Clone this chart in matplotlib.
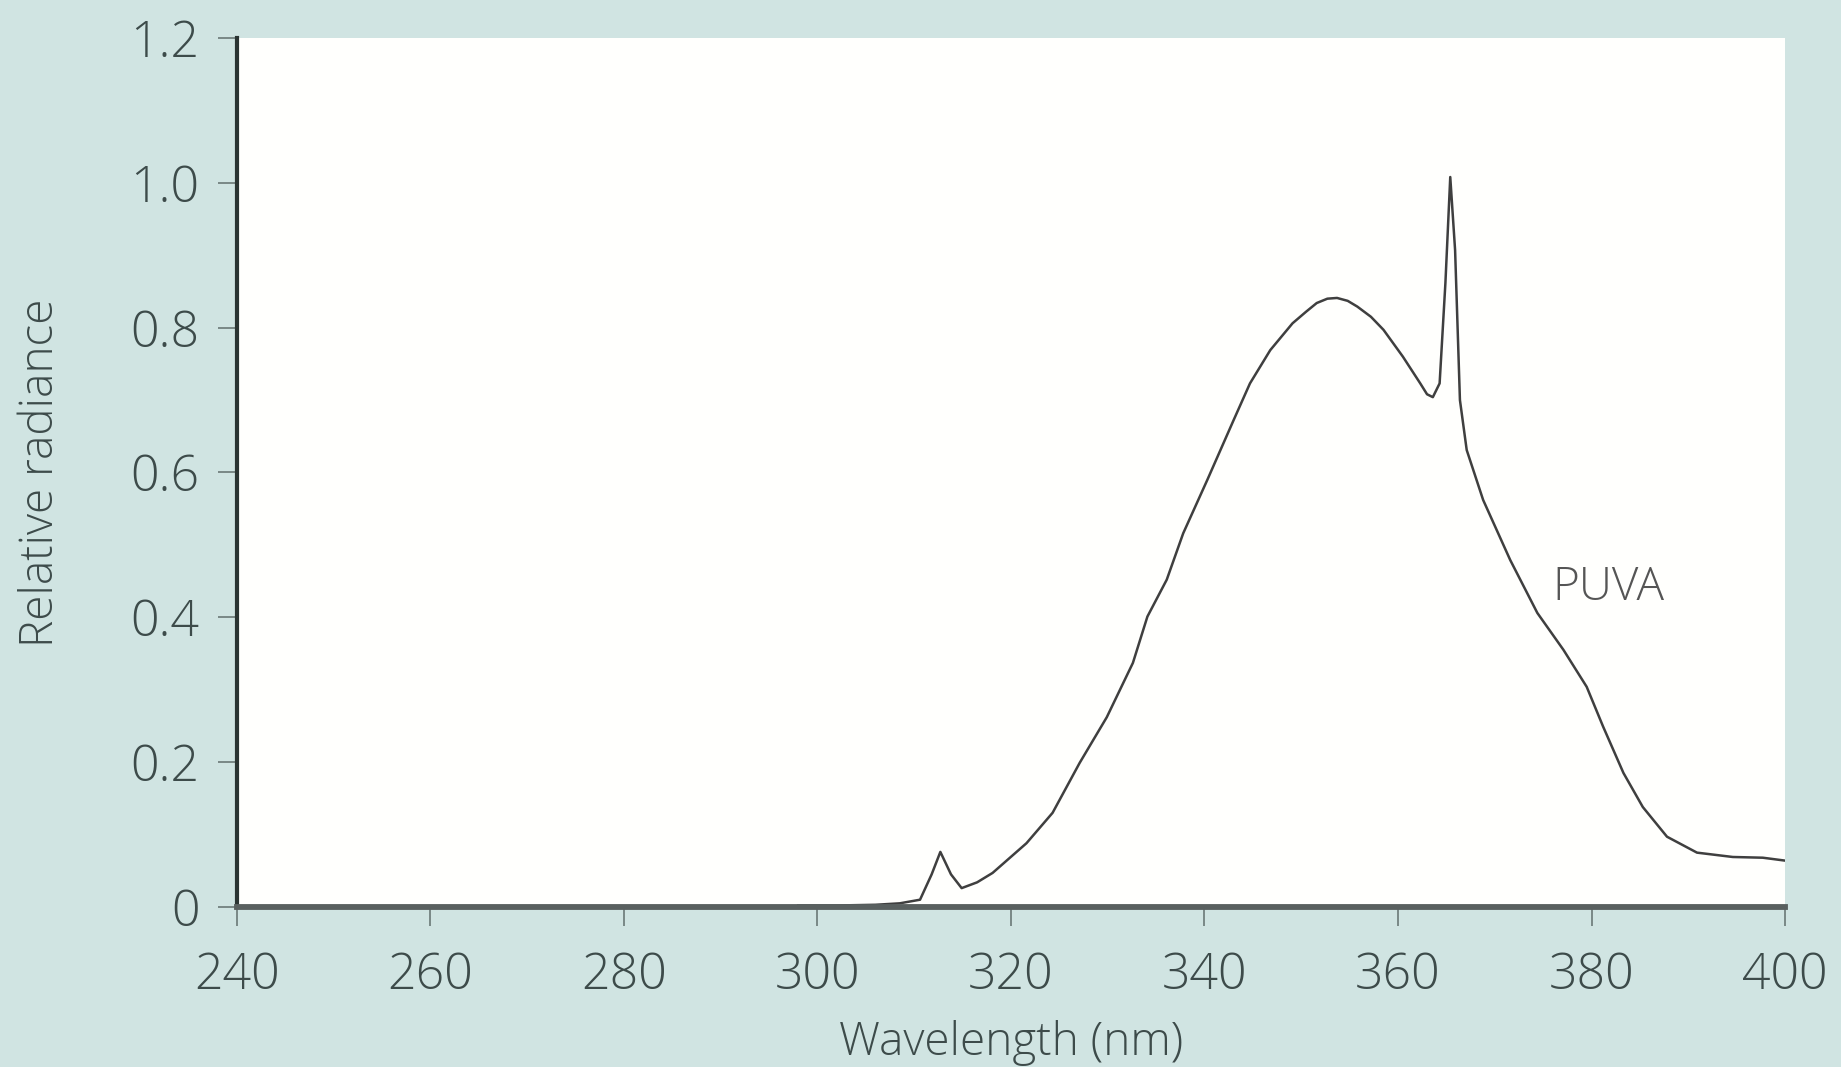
import matplotlib
matplotlib.use("Agg")
from matplotlib import pyplot as plt

# PUVA lamp spectrum
wavelength = [298.0, 302.0, 306.0, 308.5, 310.6, 311.8, 312.7, 313.8, 314.9, 316.5,
              318.1, 321.6, 324.3, 327.1, 329.9, 332.6, 334.1, 336.1, 337.8, 340.3,
              343.0, 344.7, 346.8, 349.1, 350.5, 351.6, 352.7, 353.7, 354.8, 355.8,
              357.2, 358.5, 360.5, 362.3, 363.0, 363.6, 364.3, 364.9, 365.4, 365.9,
              366.4, 367.1, 368.8, 371.6, 374.4, 377.1, 379.5, 381.2, 383.3, 385.3,
              387.8, 390.9, 394.6, 397.7, 400.0]
radiance = [0.002, 0.002, 0.003, 0.005, 0.010, 0.045, 0.076, 0.045, 0.026, 0.034,
            0.047, 0.088, 0.130, 0.199, 0.262, 0.337, 0.401, 0.452, 0.516, 0.590,
            0.672, 0.723, 0.769, 0.806, 0.822, 0.834, 0.840, 0.841, 0.837, 0.829,
            0.815, 0.797, 0.760, 0.723, 0.708, 0.704, 0.723, 0.862, 1.008, 0.907,
            0.700, 0.631, 0.562, 0.479, 0.406, 0.355, 0.304, 0.249, 0.185, 0.138,
            0.097, 0.075, 0.069, 0.068, 0.064]

x_ticks = [240, 260, 280, 300, 320, 340, 360, 380, 400]
y_ticks = [0, 0.2, 0.4, 0.6, 0.8, 1.0, 1.2]
y_ticklabels = ['0', '0.2', '0.4', '0.6', '0.8', '1.0', '1.2']

bg = '#d0e4e2'
txt = '#3d4b4a'

plt.rcParams['font.family'] = ['Open Sans', 'DejaVu Sans']
plt.rcParams['font.weight'] = 'light'
plt.rcParams['axes.labelweight'] = 'light'

fig = plt.figure(figsize=(18.41, 10.67), dpi=100, facecolor=bg)
ax = fig.add_axes([0.1287, 0.150, 0.8409, 0.8144])
ax.set_facecolor('#fffffd')

ax.plot(wavelength, radiance, color='#3f3f3f', linewidth=1.8)

ax.set_xlim(240, 400)
ax.set_ylim(0, 1.2)
ax.set_xticks(x_ticks)
ax.set_yticks(y_ticks)
ax.set_yticklabels(y_ticklabels)

ax.spines['top'].set_visible(False)
ax.spines['right'].set_visible(False)
ax.spines['left'].set_color('#2a3432')
ax.spines['left'].set_linewidth(3)
ax.spines['bottom'].set_color('#59605f')
ax.spines['bottom'].set_linewidth(4.2)

ax.tick_params(axis='both', direction='out', length=14, width=1.2,
               color='#6a7876', labelcolor=txt, labelsize=36)
ax.tick_params(axis='y', pad=13)
ax.tick_params(axis='x', pad=18)

ax.set_xlabel('Wavelength (nm)', fontsize=33, color=txt)
ax.set_ylabel('Relative radiance', fontsize=33, color=txt)
ax.xaxis.set_label_coords(0.5, -0.157)
ax.yaxis.set_label_coords(-0.1266, 0.5)
ax.xaxis.label.set_va('center')
ax.yaxis.label.set_va('center')

ax.text(376.0, 0.44, 'PUVA', fontsize=33, color='#555555', va='center', ha='left')

fig.savefig('out.png', dpi=100, facecolor=bg)
